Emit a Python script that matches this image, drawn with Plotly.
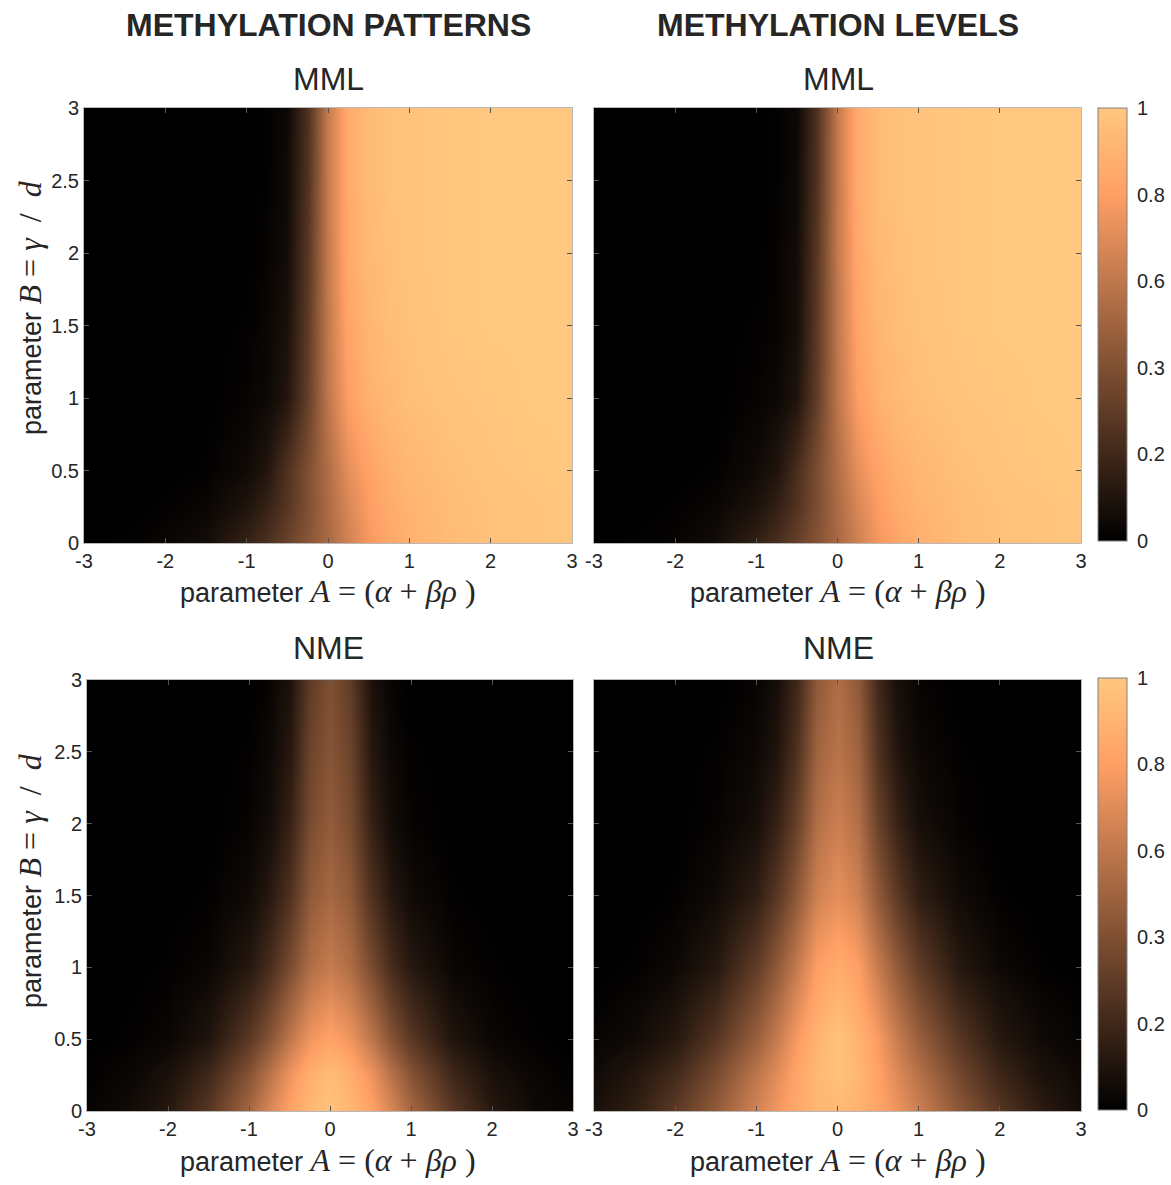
import plotly.graph_objects as go

# ---------------- data (colour-fraction units 0..1) ----------------
A_vals = [-3, -2.5, -2, -1.5, -1, -0.75, -0.5, -0.25, 0, 0.25, 0.5, 0.75, 1, 1.5, 2, 2.5, 3]
B_vals = [0, 0.25, 0.5, 1, 1.5, 2, 2.5, 3]

# MML - methylation patterns (rows: B = 0, 0.25, 0.5, 1, 1.5, 2, 2.5, 3)
mml_patterns = [
    [0.00, 0.01, 0.03, 0.06, 0.17, 0.24, 0.33, 0.43, 0.53, 0.65, 0.77, 0.84, 0.89, 0.94, 0.97, 0.98, 0.99],
    [0.00, 0.00, 0.01, 0.03, 0.10, 0.17, 0.27, 0.40, 0.54, 0.68, 0.79, 0.86, 0.90, 0.95, 0.97, 0.98, 0.99],
    [0.00, 0.00, 0.00, 0.01, 0.05, 0.11, 0.25, 0.40, 0.55, 0.72, 0.82, 0.88, 0.92, 0.96, 0.98, 0.99, 1.00],
    [0.00, 0.00, 0.00, 0.00, 0.02, 0.04, 0.11, 0.32, 0.60, 0.80, 0.89, 0.93, 0.96, 0.98, 0.99, 1.00, 1.00],
    [0.00, 0.00, 0.00, 0.00, 0.01, 0.03, 0.08, 0.30, 0.61, 0.83, 0.91, 0.95, 0.97, 0.99, 1.00, 1.00, 1.00],
    [0.00, 0.00, 0.00, 0.00, 0.00, 0.02, 0.06, 0.28, 0.62, 0.85, 0.93, 0.96, 0.98, 0.99, 1.00, 1.00, 1.00],
    [0.00, 0.00, 0.00, 0.00, 0.00, 0.01, 0.05, 0.26, 0.62, 0.86, 0.94, 0.97, 0.98, 0.99, 1.00, 1.00, 1.00],
    [0.00, 0.00, 0.00, 0.00, 0.00, 0.01, 0.04, 0.25, 0.62, 0.86, 0.94, 0.97, 0.98, 0.99, 1.00, 1.00, 1.00],
]

# MML - methylation levels
mml_levels = [
    [0.00, 0.01, 0.02, 0.06, 0.16, 0.23, 0.32, 0.42, 0.53, 0.65, 0.76, 0.83, 0.88, 0.94, 0.97, 0.98, 0.99],
    [0.00, 0.00, 0.01, 0.03, 0.09, 0.16, 0.26, 0.39, 0.54, 0.68, 0.79, 0.86, 0.90, 0.95, 0.97, 0.98, 0.99],
    [0.00, 0.00, 0.00, 0.01, 0.05, 0.10, 0.23, 0.39, 0.56, 0.72, 0.82, 0.88, 0.92, 0.96, 0.98, 0.99, 1.00],
    [0.00, 0.00, 0.00, 0.00, 0.02, 0.04, 0.10, 0.31, 0.60, 0.80, 0.89, 0.93, 0.96, 0.98, 0.99, 1.00, 1.00],
    [0.00, 0.00, 0.00, 0.00, 0.01, 0.02, 0.07, 0.29, 0.61, 0.83, 0.91, 0.95, 0.97, 0.99, 1.00, 1.00, 1.00],
    [0.00, 0.00, 0.00, 0.00, 0.00, 0.02, 0.06, 0.28, 0.62, 0.85, 0.93, 0.96, 0.98, 0.99, 1.00, 1.00, 1.00],
    [0.00, 0.00, 0.00, 0.00, 0.00, 0.01, 0.05, 0.26, 0.62, 0.86, 0.94, 0.97, 0.98, 0.99, 1.00, 1.00, 1.00],
    [0.00, 0.00, 0.00, 0.00, 0.00, 0.01, 0.04, 0.25, 0.62, 0.86, 0.94, 0.97, 0.98, 0.99, 1.00, 1.00, 1.00],
]

# NME - methylation patterns
nme_patterns = [
    [0.02, 0.05, 0.12, 0.28, 0.52, 0.68, 0.82, 0.92, 0.97, 0.92, 0.82, 0.68, 0.52, 0.28, 0.12, 0.05, 0.02],
    [0.01, 0.03, 0.08, 0.20, 0.42, 0.58, 0.75, 0.88, 0.95, 0.88, 0.75, 0.58, 0.42, 0.20, 0.08, 0.03, 0.01],
    [0.00, 0.01, 0.03, 0.10, 0.28, 0.42, 0.60, 0.75, 0.82, 0.75, 0.60, 0.42, 0.28, 0.10, 0.03, 0.01, 0.00],
    [0.00, 0.00, 0.01, 0.03, 0.12, 0.22, 0.38, 0.55, 0.62, 0.55, 0.38, 0.22, 0.12, 0.03, 0.01, 0.00, 0.00],
    [0.00, 0.00, 0.00, 0.01, 0.05, 0.12, 0.25, 0.45, 0.52, 0.45, 0.25, 0.12, 0.05, 0.01, 0.00, 0.00, 0.00],
    [0.00, 0.00, 0.00, 0.00, 0.02, 0.06, 0.17, 0.38, 0.46, 0.38, 0.17, 0.06, 0.02, 0.00, 0.00, 0.00, 0.00],
    [0.00, 0.00, 0.00, 0.00, 0.01, 0.04, 0.12, 0.34, 0.42, 0.34, 0.12, 0.04, 0.01, 0.00, 0.00, 0.00, 0.00],
    [0.00, 0.00, 0.00, 0.00, 0.00, 0.02, 0.09, 0.30, 0.40, 0.30, 0.09, 0.02, 0.00, 0.00, 0.00, 0.00, 0.00],
]

# NME - methylation levels
nme_levels = [
    [0.08, 0.15, 0.29, 0.46, 0.66, 0.76, 0.85, 0.91, 0.93, 0.89, 0.83, 0.74, 0.64, 0.44, 0.27, 0.14, 0.06],
    [0.05, 0.11, 0.21, 0.38, 0.59, 0.71, 0.83, 0.93, 0.97, 0.92, 0.81, 0.69, 0.57, 0.36, 0.19, 0.09, 0.04],
    [0.02, 0.05, 0.12, 0.27, 0.48, 0.62, 0.78, 0.90, 0.98, 0.90, 0.78, 0.62, 0.48, 0.27, 0.12, 0.05, 0.02],
    [0.00, 0.01, 0.04, 0.12, 0.30, 0.45, 0.62, 0.80, 0.86, 0.80, 0.62, 0.45, 0.30, 0.12, 0.04, 0.01, 0.00],
    [0.00, 0.00, 0.01, 0.05, 0.15, 0.28, 0.45, 0.65, 0.72, 0.65, 0.45, 0.28, 0.15, 0.05, 0.01, 0.00, 0.00],
    [0.00, 0.00, 0.00, 0.02, 0.07, 0.17, 0.33, 0.56, 0.64, 0.56, 0.33, 0.17, 0.07, 0.02, 0.00, 0.00, 0.00],
    [0.00, 0.00, 0.00, 0.01, 0.04, 0.10, 0.25, 0.50, 0.58, 0.50, 0.25, 0.10, 0.04, 0.01, 0.00, 0.00, 0.00],
    [0.00, 0.00, 0.00, 0.00, 0.02, 0.07, 0.20, 0.45, 0.55, 0.45, 0.20, 0.07, 0.02, 0.00, 0.00, 0.00, 0.00],
]

x_tickvals = [-3, -2, -1, 0, 1, 2, 3]
x_ticktext = ["-3", "-2", "-1", "0", "1", "2", "3"]
y_tickvals = [0, 0.5, 1, 1.5, 2, 2.5, 3]
y_ticktext = ["0", "0.5", "1", "1.5", "2", "2.5", "3"]
cb_tickvals = [0, 0.2, 0.4, 0.6, 0.8, 1]
cb_ticktext = ["0", "0.2", "0.3", "0.6", "0.8", "1"]

col_titles = ["METHYLATION PATTERNS", "METHYLATION LEVELS"]
row_titles = ["MML", "NME"]

# ---------------- styling ----------------
W, H = 1171, 1185
SANS = "Liberation Sans, Arial, Helvetica, sans-serif"
SERIF = "Liberation Serif, Times New Roman, serif"
TXT = "#262626"

copper = [[0.0, "rgb(0,0,0)"], [0.8, "rgb(255,159,101)"], [1.0, "rgb(255,199,127)"]]

def px_x(v):
    return v / W

def px_y(v):
    return 1 - v / H

# panel pixel boxes: (left, right, top, bottom)
boxes = [
    (84, 572, 108, 543),
    (594, 1081, 108, 543),
    (87, 573, 680, 1111),
    (594, 1081, 680, 1111),
]
cbar_boxes = [(1098, 108, 541), (1098, 678, 1110)]

fig = go.Figure()
grids = [mml_patterns, mml_levels, nme_patterns, nme_levels]

for i, z in enumerate(grids):
    n = i + 1
    show = (i % 2 == 1)
    cb = None
    if show:
        cx, ct, cbm = cbar_boxes[i // 2]
        cb = dict(
            x=px_x(cx), xanchor="left", y=px_y(ct), yanchor="top",
            len=(cbm - ct) / H, lenmode="fraction", thickness=29, thicknessmode="pixels",
            tickvals=cb_tickvals, ticktext=cb_ticktext, ticks="outside", ticklen=6,
            tickcolor="rgba(0,0,0,0)", outlinecolor="#808080", outlinewidth=1,
            tickfont=dict(family=SANS, size=20, color=TXT), xpad=0, ypad=0,
        )
    fig.add_trace(go.Heatmap(
        x=A_vals, y=B_vals, z=z, zmin=0, zmax=1, zsmooth="best",
        colorscale=copper, showscale=show, colorbar=cb,
        xaxis="x" if n == 1 else f"x{n}", yaxis="y" if n == 1 else f"y{n}",
    ))

layout = dict(
    width=W, height=H, margin=dict(l=0, r=0, t=0, b=0, autoexpand=False),
    paper_bgcolor="white", plot_bgcolor="white", showlegend=False,
)
for i, (l, r, t, b) in enumerate(boxes):
    n = i + 1
    xa = "xaxis" if n == 1 else f"xaxis{n}"
    ya = "yaxis" if n == 1 else f"yaxis{n}"
    layout[xa] = dict(
        domain=[px_x(l), px_x(r)], range=[-3, 3], anchor="y" if n == 1 else f"y{n}",
        tickvals=x_tickvals, ticktext=x_ticktext, ticks="inside", ticklen=5,
        tickcolor="#555555", showline=True, linecolor="#b8b8b8", linewidth=1, mirror="ticks",
        showgrid=False, zeroline=False, tickfont=dict(family=SANS, size=20, color=TXT),
    )
    layout[ya] = dict(
        domain=[px_y(b), px_y(t)], range=[0, 3], anchor="x" if n == 1 else f"x{n}",
        tickvals=y_tickvals, ticktext=y_ticktext, ticks="inside", ticklen=5,
        tickcolor="#555555", showline=True, linecolor="#b8b8b8", linewidth=1, mirror="ticks",
        showgrid=False, zeroline=False, showticklabels=(i % 2 == 0),
        tickfont=dict(family=SANS, size=20, color=TXT),
    )

xlabel = ("parameter <span style='font-family:" + SERIF + ";font-size:32px'>"
          "<i>A</i> = (<i>α</i> + <i>βρ</i> )</span>")
ylabel = ("parameter <span style='font-family:" + SERIF + ";font-size:32px'>"
          "<i>B</i> = <i>γ</i>  /  <i>d</i></span>")

ann = []
# column headers
for cx, txt in zip([328, 838], col_titles):
    ann.append(dict(x=px_x(cx), y=px_y(25), xref="paper", yref="paper", text="<b>" + txt + "</b>",
                    showarrow=False, xanchor="center", yanchor="middle",
                    font=dict(family=SANS, size=32, color=TXT)))
# row subtitles
for cy, txt in zip([79, 648], row_titles):
    for cx in [328, 838]:
        ann.append(dict(x=px_x(cx), y=px_y(cy), xref="paper", yref="paper", text=txt,
                        showarrow=False, xanchor="center", yanchor="middle",
                        font=dict(family=SANS, size=32, color=TXT)))
# x axis titles
for cy in [591, 1160]:
    for cx in [328, 838]:
        ann.append(dict(x=px_x(cx), y=px_y(cy), xref="paper", yref="paper", text=xlabel,
                        showarrow=False, xanchor="center", yanchor="middle",
                        font=dict(family=SANS, size=27, color=TXT)))
# y axis titles
for cy in [308, 881]:
    ann.append(dict(x=px_x(30), y=px_y(cy), xref="paper", yref="paper", text=ylabel,
                    showarrow=False, xanchor="center", yanchor="middle", textangle=-90,
                    font=dict(family=SANS, size=27, color=TXT)))
layout["annotations"] = ann

fig.update_layout(**layout)
fig.write_html("out.html")
